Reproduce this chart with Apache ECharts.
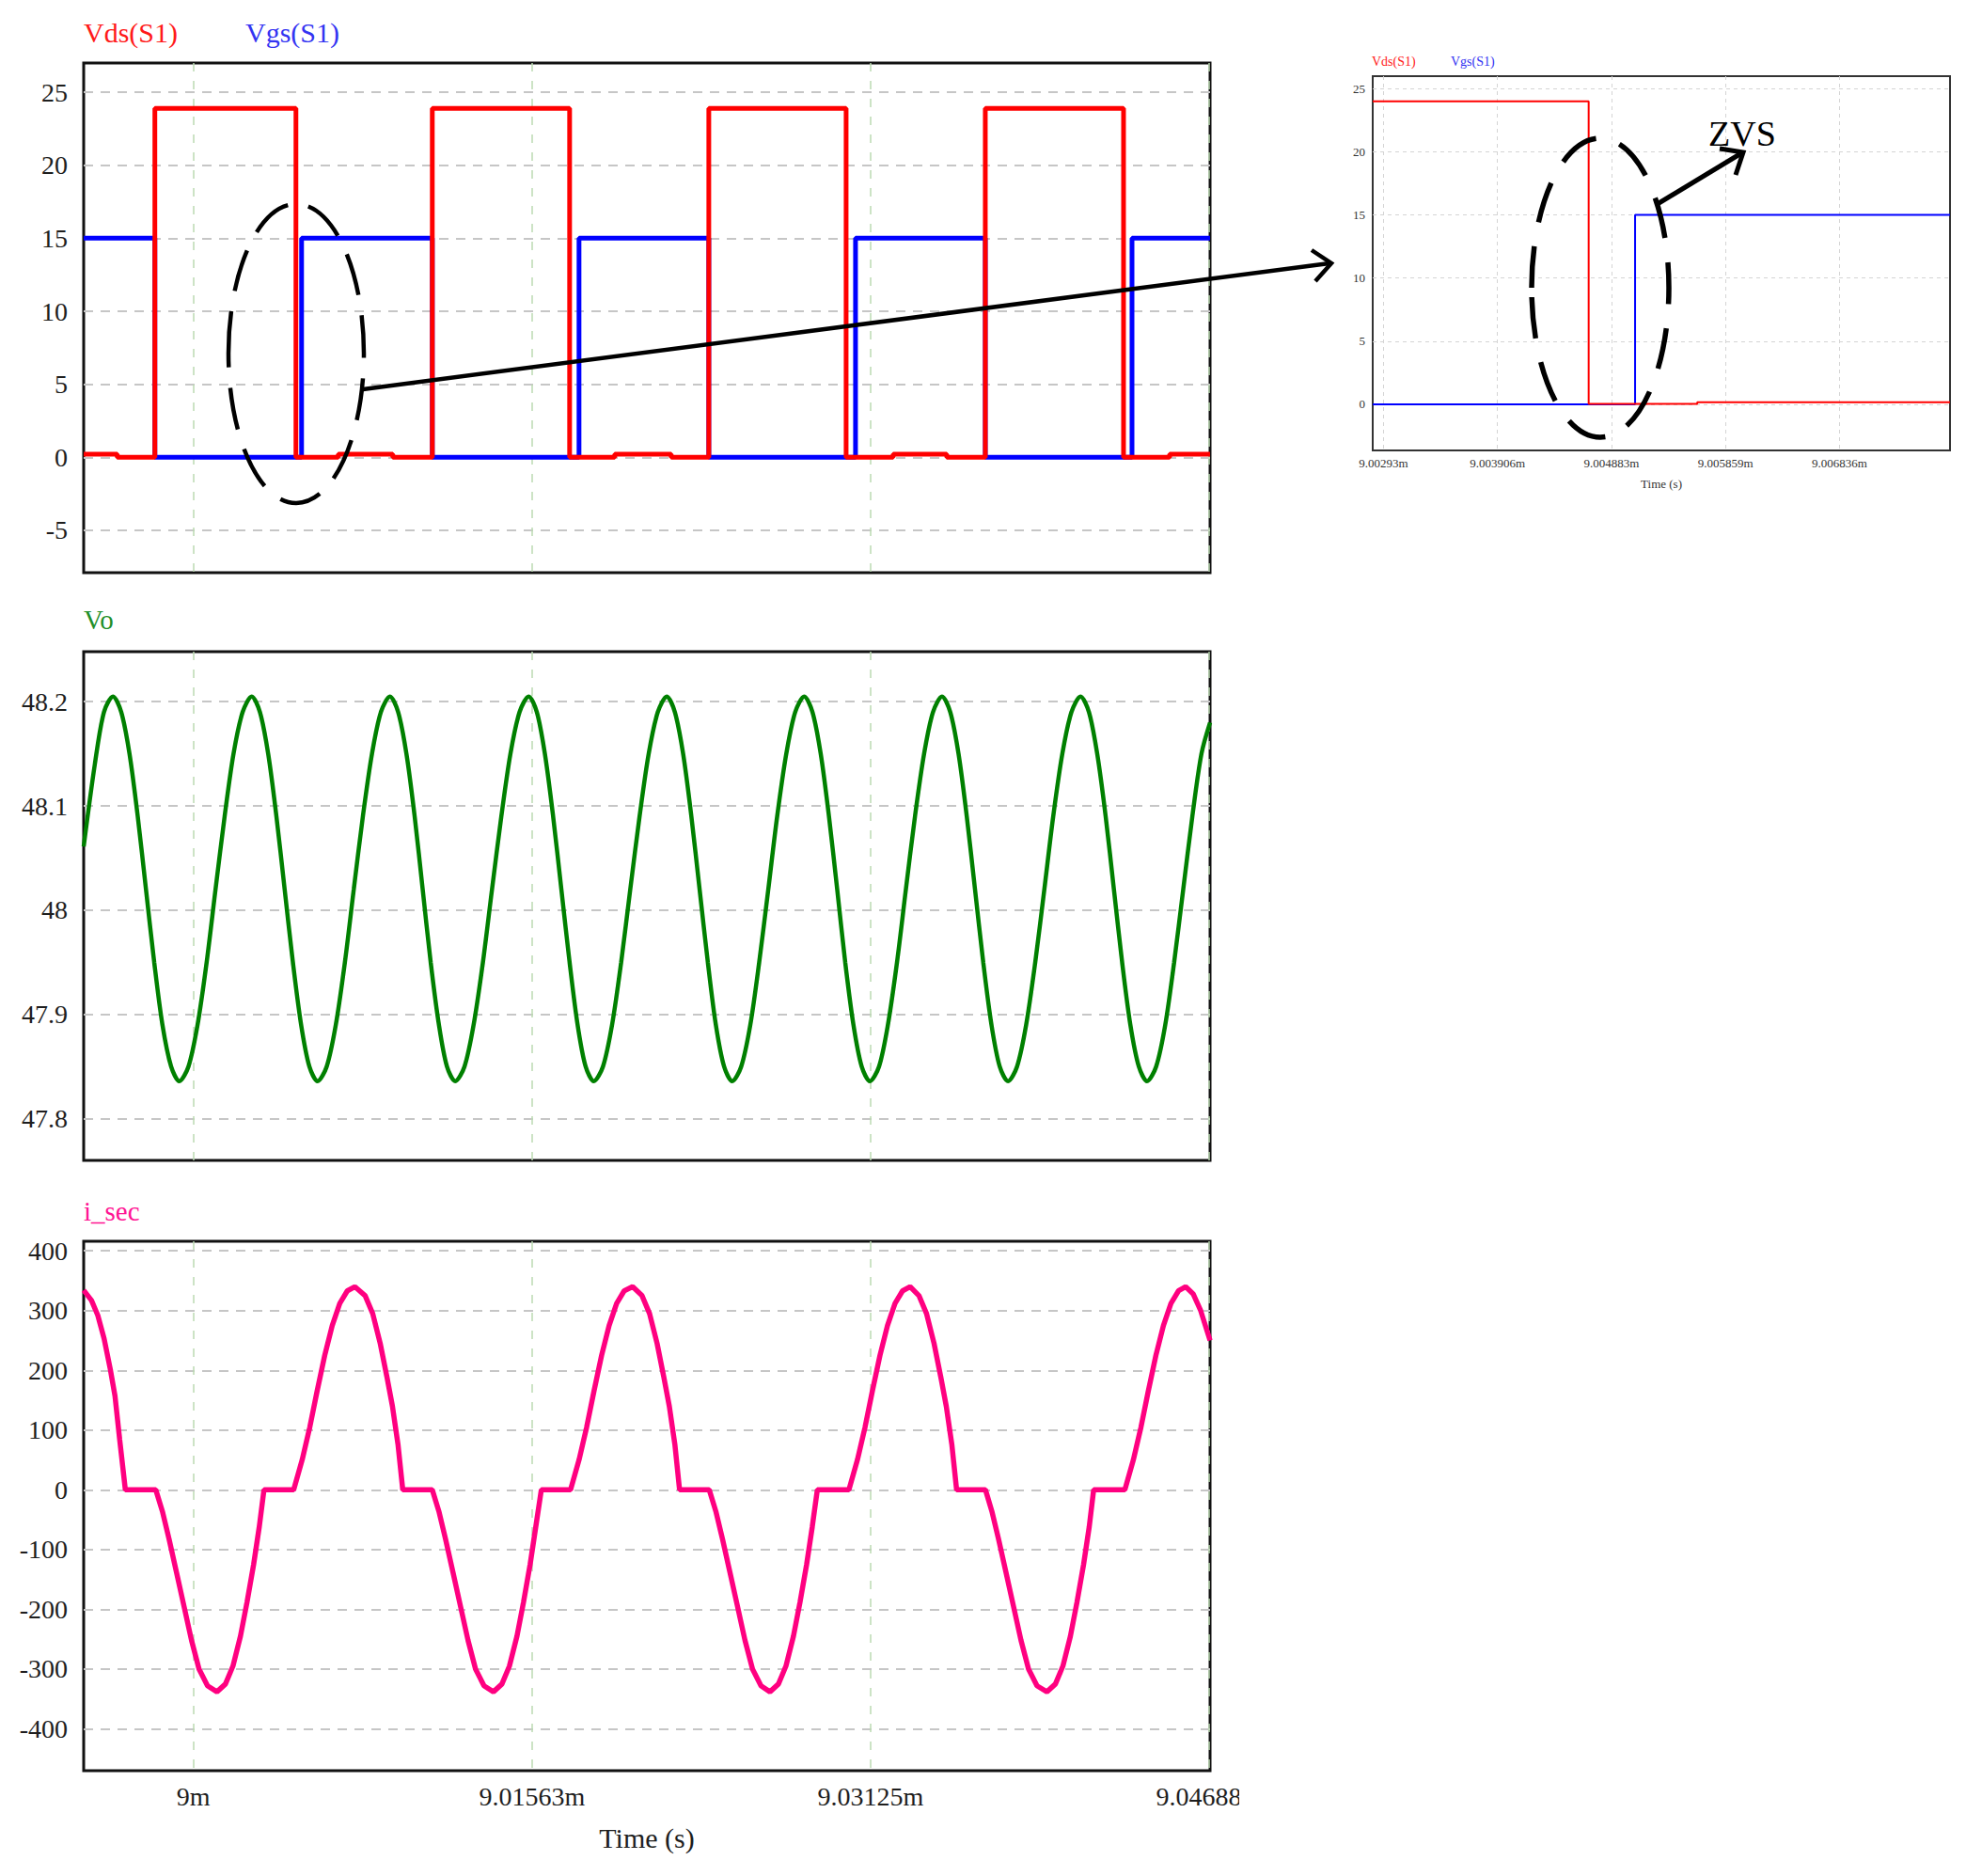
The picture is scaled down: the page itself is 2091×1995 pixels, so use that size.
<!DOCTYPE html>
<html><head><meta charset="utf-8">
<script src="https://cdn.jsdelivr.net/npm/echarts@6/dist/echarts.min.js"></script>
<style>html,body{margin:0;padding:0;background:#fff}#c{width:2091px;height:1995px}</style>
</head><body><div id="c"></div>
<script>
// ---- time axis (µs) ----
const timeMin = 8994.935, timeMax = 9046.918;
const xTicks = [9000, 9015.625, 9031.25, 9046.875];
const xTickLabels = ['9m', '9.01563m', '9.03125m', '9.04688m'];
const insetTimeMin = 9002.837, insetTimeMax = 9007.784;
const insetXTicks = [9002.9296875, 9003.90625, 9004.8828125, 9005.859375, 9006.8359375];
const insetXTickLabels = ['9.00293m', '9.003906m', '9.004883m', '9.005859m', '9.006836m'];

// ---- y ticks ----
const switchTicks = [-5, 0, 5, 10, 15, 20, 25];
const voTicks = [47.8, 47.9, 48, 48.1, 48.2];
const isecTicks = [-400, -300, -200, -100, 0, 100, 200, 300, 400];
const insetYTicks = [0, 5, 10, 15, 20, 25];

// ---- Vds(S1), Vgs(S1) (step: value holds until next time) ----
const vdsTime = [8994.935, 8996.484, 8998.220, 9004.731, 9006.684, 9009.201, 9011.024, 9017.361, 9019.444, 9022.049, 9023.785, 9030.122, 9032.292, 9034.766, 9036.545, 9042.925, 9045.052, 9046.918];
const vdsValue = [0.22, 0, 23.9, 0, 0.22, 0, 23.9, 0, 0.22, 0, 23.9, 0, 0.22, 0, 23.9, 0, 0.22, 0.22];
const vgsTime = [8994.935, 8998.220, 9004.991, 9011.024, 9017.795, 9023.785, 9030.556, 9036.545, 9043.316, 9046.918];
const vgsValue = [15, 0, 15, 0, 15, 0, 15, 0, 15, 15];

// ---- Vo ----
const voTime = [8994.935, 8995.45, 8995.87,
  8996.289, 8996.67, 8997.05, 8997.43, 8997.81, 8998.19, 8998.57, 8998.97, 8999.349, 8999.77, 9000.19, 9000.61, 9001.02, 9001.44, 9001.85, 9002.27,
  9002.691, 9003.07, 9003.45, 9003.83, 9004.21, 9004.59, 9004.97, 9005.35, 9005.729, 9006.15, 9006.57, 9006.99, 9007.40, 9007.82, 9008.24, 9008.65,
  9009.071, 9009.45, 9009.83, 9010.21, 9010.58, 9010.95, 9011.33, 9011.70, 9012.083, 9012.51, 9012.93, 9013.36, 9013.78, 9014.21, 9014.63, 9015.05,
  9015.473, 9015.85, 9016.22, 9016.60, 9016.98, 9017.36, 9017.73, 9018.10, 9018.477, 9018.90, 9019.32, 9019.74, 9020.16, 9020.59, 9021.01, 9021.43,
  9021.849, 9022.22, 9022.60, 9022.98, 9023.36, 9023.74, 9024.11, 9024.49, 9024.865, 9025.28, 9025.70, 9026.11, 9026.53, 9026.94, 9027.36, 9027.77,
  9028.190, 9028.57, 9028.95, 9029.33, 9029.71, 9030.08, 9030.46, 9030.84, 9031.220, 9031.64, 9032.05, 9032.47, 9032.88, 9033.30, 9033.72, 9034.13,
  9034.549, 9034.93, 9035.31, 9035.69, 9036.07, 9036.45, 9036.83, 9037.21, 9037.595, 9038.01, 9038.43, 9038.85, 9039.27, 9039.68, 9040.10, 9040.52,
  9040.942, 9041.33, 9041.71, 9042.10, 9042.48, 9042.86, 9043.24, 9043.63, 9044.010, 9044.43, 9044.85, 9045.26, 9045.68, 9046.10, 9046.52, 9046.918];
const voValue = [48.061, 48.14, 48.19,
  48.205, 48.19, 48.15, 48.09, 48.02, 47.95, 47.89, 47.85, 47.836, 47.85, 47.89, 47.95, 48.02, 48.09, 48.15, 48.19,
  48.205, 48.19, 48.15, 48.09, 48.02, 47.95, 47.89, 47.85, 47.836, 47.85, 47.89, 47.95, 48.02, 48.09, 48.15, 48.19,
  48.205, 48.19, 48.15, 48.09, 48.02, 47.95, 47.89, 47.85, 47.836, 47.85, 47.89, 47.95, 48.02, 48.09, 48.15, 48.19,
  48.205, 48.19, 48.15, 48.09, 48.02, 47.95, 47.89, 47.85, 47.836, 47.85, 47.89, 47.95, 48.02, 48.09, 48.15, 48.19,
  48.205, 48.19, 48.15, 48.09, 48.02, 47.95, 47.89, 47.85, 47.836, 47.85, 47.89, 47.95, 48.02, 48.09, 48.15, 48.19,
  48.205, 48.19, 48.15, 48.09, 48.02, 47.95, 47.89, 47.85, 47.836, 47.85, 47.89, 47.95, 48.02, 48.09, 48.15, 48.19,
  48.205, 48.19, 48.15, 48.09, 48.02, 47.95, 47.89, 47.85, 47.836, 47.85, 47.89, 47.95, 48.02, 48.09, 48.15, 48.19,
  48.205, 48.19, 48.15, 48.09, 48.02, 47.95, 47.89, 47.85, 47.836, 47.85, 47.89, 47.95, 48.02, 48.09, 48.15, 48.18];

// ---- i_sec ----
const isecTime = [8994.935, 8995.295, 8995.586, 8995.877, 8996.163, 8996.380, 8996.597, 8996.858,
  8998.264, 8998.568, 8998.872, 8999.219, 8999.566, 8999.913, 9000.260, 9000.651, 9001.085,
  9001.476, 9001.823, 9002.170, 9002.474, 9002.778, 9003.038, 9003.255,
  9004.627, 9005.017, 9005.365, 9005.712, 9006.059, 9006.406, 9006.753, 9007.101, 9007.448,
  9007.925, 9008.273, 9008.620, 9008.924, 9009.184, 9009.444, 9009.661,
  9011.024, 9011.328, 9011.632, 9011.979, 9012.326, 9012.674, 9013.021, 9013.411, 9013.845,
  9014.236, 9014.583, 9014.931, 9015.234, 9015.538, 9015.799, 9016.055,
  9017.405, 9017.795, 9018.142, 9018.490, 9018.837, 9019.184, 9019.531, 9019.878, 9020.269,
  9020.703, 9021.050, 9021.398, 9021.701, 9021.962, 9022.222, 9022.435,
  9023.806, 9024.110, 9024.414, 9024.761, 9025.109, 9025.456, 9025.803, 9026.194, 9026.606,
  9026.997, 9027.344, 9027.691, 9027.995, 9028.299, 9028.559, 9028.793,
  9030.252, 9030.642, 9030.990, 9031.337, 9031.684, 9032.031, 9032.378, 9032.726, 9033.073,
  9033.485, 9033.832, 9034.180, 9034.484, 9034.744, 9035.004, 9035.221,
  9036.554, 9036.849, 9037.153, 9037.500, 9037.847, 9038.194, 9038.542, 9038.932, 9039.388,
  9039.779, 9040.126, 9040.473, 9040.777, 9041.081, 9041.341, 9041.545,
  9042.986, 9043.377, 9043.724, 9044.071, 9044.418, 9044.766, 9045.113, 9045.460, 9045.790,
  9046.137, 9046.484, 9046.918];
const isecValue = [334, 317, 292, 253, 202, 157, 84, 0,
  0, -36, -82, -138, -195, -252, -300, -328, -338,
  -325, -295, -245, -188, -125, -62, 0,
  0, 50, 104, 166, 225, 275, 312, 333, 340,
  325, 295, 245, 190, 140, 75, 0,
  0, -36, -82, -138, -195, -252, -300, -328, -338,
  -325, -295, -245, -188, -125, -62, 0,
  0, 50, 104, 166, 225, 275, 312, 333, 340,
  325, 295, 245, 190, 140, 75, 0,
  0, -36, -82, -138, -195, -252, -300, -328, -338,
  -325, -295, -245, -188, -125, -62, 0,
  0, 50, 104, 166, 225, 275, 312, 333, 340,
  325, 295, 245, 190, 140, 75, 0,
  0, -36, -82, -138, -195, -252, -300, -328, -338,
  -325, -295, -245, -188, -125, -62, 0,
  0, 50, 104, 166, 225, 275, 312, 333, 340,
  328, 300, 250];

// ---- inset (zoomed Vds/Vgs) ----
const insetVdsTime = [9002.837, 9004.6875, 9005.618, 9007.784];
const insetVdsValue = [24, 0.02, 0.15, 0.15];
const insetVgsTime = [9002.837, 9005.0852, 9007.784];
const insetVgsValue = [0, 15, 15];

const zip = (a, b) => a.map((t, i) => [t, b[i]]);
const labelFor = (ticks, labels) => v => {
  for (let i = 0; i < ticks.length; i++) if (Math.abs(ticks[i] - v) < 1e-6) return labels[i];
  return '';
};

const SERIF = 'Liberation Serif';
const hGrid = {show: true, lineStyle: {color: '#c6c6c6', type: [10, 8], width: 2}};
const vGrid = {show: true, lineStyle: {color: '#bcdab2', type: [9, 10], width: 1.5}};

function xAxisMain(gi, showLabels) {
  return {
    type: 'value', gridIndex: gi, min: timeMin, max: timeMax,
    axisLine: {show: false, onZero: false},
    axisTick: {show: false, customValues: xTicks},
    splitLine: vGrid,
    axisLabel: {show: showLabels, customValues: xTicks, formatter: labelFor(xTicks, xTickLabels),
      fontFamily: SERIF, fontSize: 28, color: '#1e1e1e', margin: 13},
    name: showLabels ? 'Time (s)' : '', nameLocation: 'middle', nameGap: 56,
    nameTextStyle: {fontFamily: SERIF, fontSize: 30, color: '#1e1e1e'}
  };
}
function yAxisMain(gi, min, max, ticks) {
  return {
    type: 'value', gridIndex: gi, min: min, max: max,
    axisLine: {show: false, onZero: false},
    axisTick: {show: false, customValues: ticks},
    splitLine: hGrid,
    axisLabel: {customValues: ticks, fontFamily: SERIF, fontSize: 28, color: '#1e1e1e', margin: 17}
  };
}

const chart = echarts.init(document.getElementById('c'), null, {renderer: 'svg'});
const gridBase = {show: true, borderColor: '#111', borderWidth: 3, backgroundColor: '#fff', containLabel: false};

chart.setOption({
  animation: false,
  backgroundColor: '#fff',
  textStyle: {fontFamily: SERIF},
  grid: [
    Object.assign({left: 89, top: 67, width: 1198, height: 542}, gridBase),
    Object.assign({left: 89, top: 693, width: 1198, height: 541}, gridBase),
    Object.assign({left: 89, top: 1320, width: 1198, height: 563}, gridBase),
    {show: true, left: 1460, top: 81, width: 614, height: 398, borderColor: '#333', borderWidth: 2, backgroundColor: '#fff'}
  ],
  xAxis: [
    xAxisMain(0, false), xAxisMain(1, false), xAxisMain(2, true),
    {
      type: 'value', gridIndex: 3, min: insetTimeMin, max: insetTimeMax,
      axisLine: {show: false, onZero: false},
      axisTick: {show: false, customValues: insetXTicks},
      splitLine: {show: true, lineStyle: {color: '#d4d4d4', type: [4, 4], width: 1}},
      axisLabel: {customValues: insetXTicks, formatter: labelFor(insetXTicks, insetXTickLabels),
        fontFamily: SERIF, fontSize: 13, color: '#333', margin: 7},
      name: 'Time (s)', nameLocation: 'middle', nameGap: 29,
      nameTextStyle: {fontFamily: SERIF, fontSize: 13, color: '#333'}
    }
  ],
  yAxis: [
    yAxisMain(0, -7.9, 27, switchTicks),
    yAxisMain(1, 47.760, 48.248, voTicks),
    yAxisMain(2, -470, 416, isecTicks),
    {
      type: 'value', gridIndex: 3, min: -3.66, max: 26,
      axisLine: {show: false, onZero: false},
      axisTick: {show: false, customValues: insetYTicks},
      splitLine: {show: true, lineStyle: {color: '#d4d4d4', type: [4, 4], width: 1}},
      axisLabel: {customValues: insetYTicks, fontFamily: SERIF, fontSize: 13, color: '#333', margin: 8}
    }
  ],
  series: [
    {name: 'Vgs(S1)', type: 'line', xAxisIndex: 0, yAxisIndex: 0, step: 'end', symbol: 'none', silent: true,
      data: zip(vgsTime, vgsValue), lineStyle: {color: '#0000ff', width: 5}, itemStyle: {color: '#0000ff'}},
    {name: 'Vds(S1)', type: 'line', xAxisIndex: 0, yAxisIndex: 0, step: 'end', symbol: 'none', silent: true,
      data: zip(vdsTime, vdsValue), lineStyle: {color: '#ff0000', width: 5}, itemStyle: {color: '#ff0000'}},
    {name: 'Vo', type: 'line', xAxisIndex: 1, yAxisIndex: 1, smooth: 0.3, symbol: 'none', silent: true,
      data: zip(voTime, voValue), lineStyle: {color: '#008000', width: 4.5}, itemStyle: {color: '#008000'}},
    {name: 'i_sec', type: 'line', xAxisIndex: 2, yAxisIndex: 2, symbol: 'none', silent: true,
      data: zip(isecTime, isecValue), lineStyle: {color: '#ff0080', width: 5.5}, itemStyle: {color: '#ff0080'}},
    {name: 'Vgs(S1) zoom', type: 'line', xAxisIndex: 3, yAxisIndex: 3, step: 'end', symbol: 'none', silent: true,
      data: zip(insetVgsTime, insetVgsValue), lineStyle: {color: '#0000ff', width: 2}, itemStyle: {color: '#0000ff'}},
    {name: 'Vds(S1) zoom', type: 'line', xAxisIndex: 3, yAxisIndex: 3, step: 'end', symbol: 'none', silent: true,
      data: zip(insetVdsTime, insetVdsValue), lineStyle: {color: '#ff0000', width: 2}, itemStyle: {color: '#ff0000'}}
  ],
  graphic: [
    {type: 'text', z: 100, style: {x: 89, y: 34, text: 'Vds(S1)', fill: '#ff1a1a', font: '30px "Liberation Serif"', verticalAlign: 'middle'}},
    {type: 'text', z: 100, style: {x: 261, y: 34, text: 'Vgs(S1)', fill: '#3434f2', font: '30px "Liberation Serif"', verticalAlign: 'middle'}},
    {type: 'text', z: 100, style: {x: 89, y: 659, text: 'Vo', fill: '#1f8f2a', font: '29px "Liberation Serif"', verticalAlign: 'middle'}},
    {type: 'text', z: 100, style: {x: 89, y: 1288, text: 'i_sec', fill: '#ff1493', font: '29px "Liberation Serif"', verticalAlign: 'middle'}},
    {type: 'text', z: 100, style: {x: 1459, y: 65, text: 'Vds(S1)', fill: '#ff1a1a', font: '14px "Liberation Serif"', verticalAlign: 'middle'}},
    {type: 'text', z: 100, style: {x: 1543, y: 65, text: 'Vgs(S1)', fill: '#3434f2', font: '14px "Liberation Serif"', verticalAlign: 'middle'}},
    {type: 'text', z: 100, style: {x: 1853, y: 142, text: 'ZVS', fill: '#000', font: '38px "Liberation Serif"', align: 'center', verticalAlign: 'middle'}},
    // crop of the last tick label at the picture's edge
    {type: 'rect', z: 100, shape: {x: 1318, y: 1888, width: 120, height: 50}, style: {fill: '#fff'}},
    // dashed ellipses
    {type: 'ellipse', z: 100, shape: {cx: 315, cy: 376, rx: 72, ry: 159}, style: {fill: 'none', stroke: '#000', lineWidth: 4.5, lineDash: [45, 22]}},
    {type: 'ellipse', z: 100, shape: {cx: 1702, cy: 306, rx: 73, ry: 159}, style: {fill: 'none', stroke: '#000', lineWidth: 5.5, lineDash: [44, 26]}},
    // long arrow to inset
    {type: 'line', z: 100, shape: {x1: 386, y1: 414, x2: 1414, y2: 280}, style: {stroke: '#000', lineWidth: 4.5}},
    {type: 'polyline', z: 100, shape: {points: [[1395, 266], [1416, 280], [1399, 299]]}, style: {fill: 'none', stroke: '#000', lineWidth: 4.5}},
    // ZVS arrow
    {type: 'line', z: 100, shape: {x1: 1761, y1: 218, x2: 1852, y2: 163}, style: {stroke: '#000', lineWidth: 5}},
    {type: 'polyline', z: 100, shape: {points: [[1829, 158], [1854, 162], [1846, 186]]}, style: {fill: 'none', stroke: '#000', lineWidth: 5}}
  ]
});
</script></body></html>
